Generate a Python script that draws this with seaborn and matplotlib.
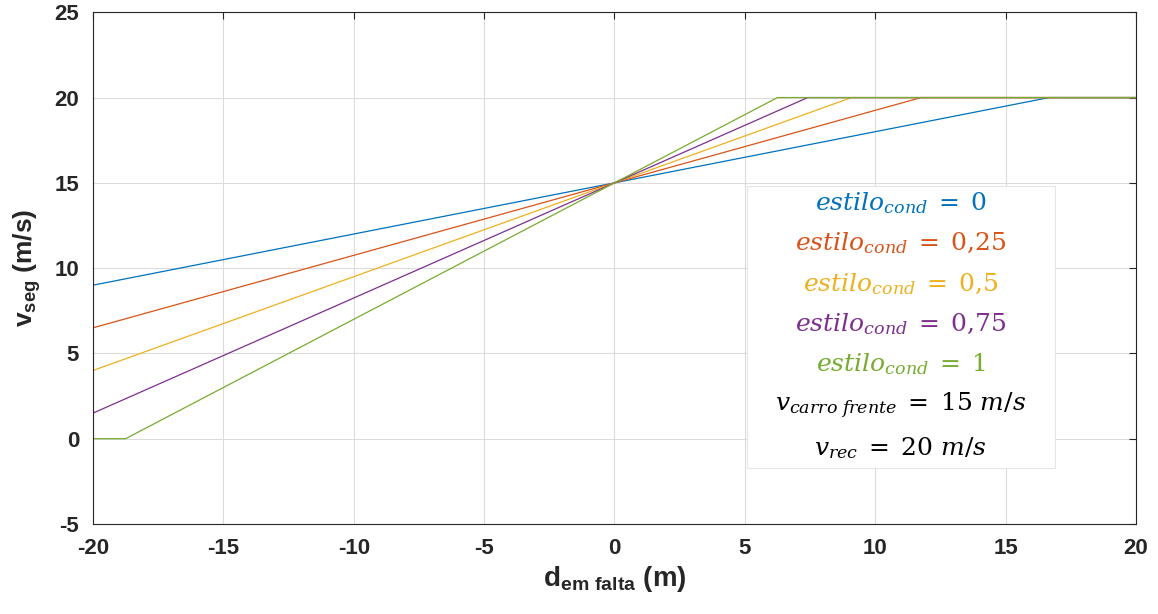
import numpy as np
import pandas as pd
import matplotlib
matplotlib.use("Agg")
import matplotlib.pyplot as plt
import seaborn as sns
from matplotlib.patches import Rectangle

# Curve breakpoints (piecewise linear, clipped to 0..20)
estilo = ["0", "0,25", "0,5", "0,75", "1"]
x_blue = [-20, 16.67, 20]
y_blue = [9.0, 20, 20]
x_orange = [-20, 11.76, 20]
y_orange = [6.5, 20, 20]
x_yellow = [-20, 9.09, 20]
y_yellow = [4.0, 20, 20]
x_purple = [-20, 7.41, 20]
y_purple = [1.5, 20, 20]
x_green = [-20, -18.75, 6.25, 20]
y_green = [0.0, 0.0, 20, 20]

colors = ["#0072BD", "#D95319", "#EDB120", "#7E2F8E", "#77AC30"]
xticks = [-20, -15, -10, -5, 0, 5, 10, 15, 20]
yticks = [-5, 0, 5, 10, 15, 20, 25]

sns.set_style("white")
plt.rcParams['font.family'] = ['Liberation Sans', 'DejaVu Sans']
plt.rcParams['axes.unicode_minus'] = False
plt.rcParams['mathtext.fontset'] = 'custom'
plt.rcParams['mathtext.rm'] = 'DejaVu Serif'
plt.rcParams['mathtext.it'] = 'DejaVu Serif:italic'
plt.rcParams['mathtext.sf'] = 'Liberation Sans:bold'

xs = [x_blue, x_orange, x_yellow, x_purple, x_green]
ys = [y_blue, y_orange, y_yellow, y_purple, y_green]
frames = []
for e, x, y in zip(estilo, xs, ys):
    frames.append(pd.DataFrame({"d": x, "v": y, "estilo": e}))
df = pd.concat(frames, ignore_index=True)

fig = plt.figure(figsize=(11.58, 6.14), dpi=100)
ax = fig.add_axes([0.0803, 0.1466, 0.9007, 0.8334])

sns.lineplot(data=df, x="d", y="v", hue="estilo", palette=colors,
             linewidth=0.9, legend=False, ax=ax, sort=False, estimator=None)

ax.set_xlim(-20, 20)
ax.set_ylim(-5, 25)
ax.set_xticks(xticks)
ax.set_yticks(yticks)
ax.grid(True, color="#dcdcdc", linewidth=0.8)
ax.set_axisbelow(True)
for s in ax.spines.values():
    s.set_color("#262626")
    s.set_linewidth(0.8)
ax.tick_params(direction="in", length=5, width=0.8, color="#262626",
               labelsize=16, pad=10, top=True, right=True,
               labeltop=False, labelright=False)
for lab in ax.get_xticklabels() + ax.get_yticklabels():
    lab.set_fontweight("bold")
    lab.set_color("#262626")

ax.set_xlabel(r"$\mathsf{d}_{\mathsf{em\ falta}}$ (m)", fontsize=20,
              fontweight="bold", color="#262626", labelpad=4)
ax.set_ylabel(r"$\mathsf{v}_{\mathsf{seg}}$ (m/s)", fontsize=19,
              fontweight="bold", color="#262626", labelpad=8)

# Annotation box
box = Rectangle((0.627, 0.11), 0.295, 0.55, transform=ax.transAxes,
                facecolor="white", edgecolor="#e6e6e6", linewidth=0.8, zorder=5)
ax.add_patch(box)
lines = [r"$estilo_{cond}\;=\;" + e.replace(",", "{,}") + "$" for e in estilo]
lines += [r"$v_{carro\ frente}\;=\;15\ m/s$", r"$v_{rec}\;=\;20\ m/s$"]
tcolors = colors + ["black", "black"]
ypix = [203, 243, 284, 324, 364, 406, 448]
for txt, c, yp in zip(lines, tcolors, ypix):
    yf = (524 - yp) / 512
    ax.text(0.7745, yf, txt, color=c, fontsize=18, ha="center", va="center",
            transform=ax.transAxes, zorder=6)

fig.savefig("out.png", dpi=100)
